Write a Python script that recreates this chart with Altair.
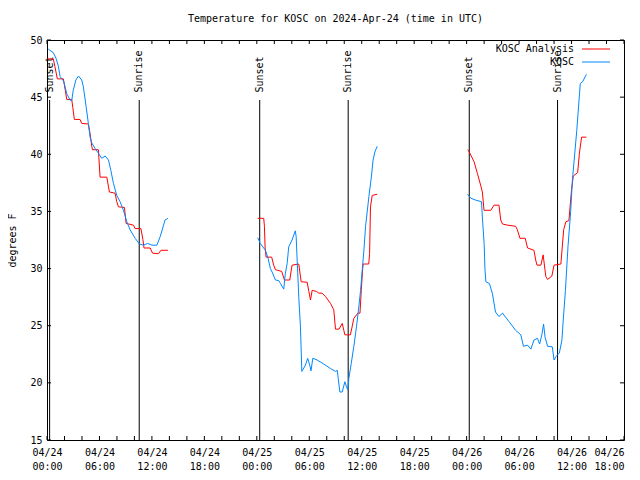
import altair as alt
import pandas as pd

FONT = "DejaVu Sans Mono"
RED = "#ff0000"
BLUE = "#0088ff"

# hours since 04/24 00:00 UTC, temperature in degrees F
ana_h1 = [0.03, 0.72, 0.9, 1.18, 1.87, 2.05, 2.26, 2.83, 2.95, 3.13, 3.78, 3.97, 4.73, 4.93, 5.12, 5.2, 5.88, 6.07, 6.84, 7.14, 7.79, 7.98, 8.17, 8.86, 9.05, 9.89, 10.08, 10.74, 10.97, 11.1, 11.8, 12.07, 12.76, 13.03, 13.83]
ana_t1 = [48.35, 48.35, 47.7, 46.6, 46.6, 45.8, 44.8, 44.8, 44.1, 43.05, 43.05, 42.7, 42.65, 41.8, 40.7, 40.4, 40.4, 38.0, 38.0, 36.7, 36.6, 35.85, 35.4, 35.35, 33.95, 33.8, 33.5, 33.5, 32.55, 31.8, 31.8, 31.35, 31.3, 31.6, 31.6]
ana_h2 = [24.1, 24.79, 24.87, 24.95, 25.06, 25.7, 25.93, 26.13, 26.85, 27.16, 27.77, 28.03, 28.8, 29.07, 29.76, 29.95, 30.14, 30.33, 30.82, 31.1, 31.47, 31.86, 32.43, 32.8, 33.0, 33.4, 33.77, 33.95, 34.07, 34.7, 34.9, 35.1, 35.56, 35.8, 35.95, 36.1, 36.17, 36.8, 36.9, 37.0, 37.2, 37.77]
ana_t2 = [34.4, 34.4, 33.7, 31.8, 31.0, 31.0, 30.3, 29.9, 29.75, 29.0, 29.0, 30.3, 30.4, 28.85, 28.8, 28.0, 27.25, 28.1, 28.0, 27.85, 27.85, 27.55, 26.95, 26.4, 24.7, 24.7, 25.2, 24.6, 24.2, 24.2, 24.9, 25.65, 26.1, 26.1, 28.1, 29.9, 30.4, 30.4, 31.3, 35.4, 36.4, 36.5]
ana_h3 = [48.1, 48.2, 48.85, 49.24, 49.6, 49.8, 49.99, 50.76, 51.14, 51.7, 51.9, 52.1, 52.67, 53.6, 53.8, 54.1, 54.7, 54.97, 55.7, 55.9, 56.05, 56.5, 56.75, 57.06, 57.26, 57.75, 58.0, 58.78, 59.1, 59.35, 59.7, 60.0, 60.2, 60.7, 60.9, 61.15, 61.7]
ana_t3 = [40.4, 40.35, 39.35, 38.3, 37.3, 36.7, 35.1, 35.1, 35.55, 35.55, 34.25, 33.9, 33.8, 33.7, 33.4, 32.65, 32.65, 31.8, 31.6, 30.75, 30.3, 30.3, 31.2, 29.3, 29.05, 29.35, 30.3, 30.4, 33.4, 34.1, 34.2, 36.9, 38.1, 38.4, 40.1, 41.5, 41.5]

obs_h1 = [0.15, 0.72, 1.03, 1.3, 1.5, 1.9, 2.26, 2.64, 2.83, 3.0, 3.3, 3.6, 3.97, 4.16, 4.47, 4.73, 4.93, 5.12, 5.5, 5.88, 6.26, 6.65, 7.03, 7.3, 7.6, 7.98, 8.36, 8.74, 9.13, 9.5, 10.08, 10.58, 11.03, 11.5, 12.0, 12.57, 12.95, 13.33, 13.5, 13.83]
obs_t1 = [49.2, 48.9, 48.4, 47.7, 46.8, 46.4, 45.3, 44.75, 44.7, 45.6, 46.5, 46.85, 46.5, 45.9, 44.2, 42.7, 41.5, 41.0, 40.5, 40.1, 39.65, 39.85, 39.5, 38.6, 37.45, 36.4, 35.85, 35.1, 34.1, 33.4, 32.65, 32.15, 32.05, 32.2, 32.05, 32.05, 32.8, 33.8, 34.25, 34.4]
obs_h2 = [24.1, 24.4, 24.98, 25.29, 25.55, 25.75, 26.13, 26.5, 26.7, 27.08, 27.25, 27.47, 27.65, 28.03, 28.4, 28.5, 28.6, 28.8, 28.99, 29.15, 29.56, 29.82, 30.05, 30.2, 30.4, 30.9, 31.66, 32.43, 33.0, 33.2, 33.5, 33.77, 34.07, 34.26, 34.41, 34.53, 34.8, 35.1, 35.4, 35.67, 35.87, 36.06, 36.25, 36.44, 36.82, 37.1, 37.3, 37.5, 37.77]
obs_t2 = [32.7, 32.2, 31.6, 30.9, 30.0, 29.7, 29.0, 28.95, 28.7, 28.2, 29.5, 30.45, 31.9, 32.5, 33.3, 32.8, 31.0, 27.5, 24.9, 21.0, 21.55, 22.15, 21.55, 21.05, 22.15, 22.0, 21.65, 21.25, 21.0, 21.1, 19.2, 19.2, 20.1, 19.65, 19.4, 20.4, 21.7, 23.2, 24.9, 26.65, 28.1, 29.9, 31.6, 33.7, 36.3, 38.0, 39.5, 40.2, 40.7]
obs_h3 = [48.1, 48.5, 49.0, 49.7, 49.8, 50.0, 50.1, 50.2, 50.6, 50.95, 51.3, 51.7, 52.1, 52.86, 53.6, 54.2, 54.5, 54.97, 55.35, 55.7, 56.1, 56.35, 56.6, 56.8, 56.97, 57.26, 57.8, 58.0, 58.2, 58.6, 58.9, 59.05, 59.3, 59.6, 59.9, 60.1, 60.6, 61.0, 61.27, 61.7]
obs_t3 = [36.5, 36.15, 36.0, 35.85, 34.5, 32.2, 29.9, 28.85, 28.7, 27.8, 26.2, 25.8, 26.1, 25.35, 24.6, 24.2, 23.2, 23.3, 22.95, 23.75, 23.9, 23.4, 24.2, 25.15, 24.0, 23.2, 23.15, 22.0, 22.3, 22.6, 23.75, 25.5, 28.1, 32.0, 35.0, 37.75, 42.1, 46.2, 46.35, 47.0]

event_hours = [0.3, 10.55, 24.33, 34.45, 48.3, 58.4]
event_labels = ["Sunset", "Sunrise", "Sunset", "Sunrise", "Sunset", "Sunrise"]

x_tick_values = list(range(0, 67, 6))
x_minor_values = list(range(0, 67, 2))
y_tick_values = list(range(15, 51, 5))

series_names = ["KOSC Analysis", "KOSC"]
series_colors = [RED, BLUE]


def frame(segs, name):
    rows = []
    for i, (hs, ts) in enumerate(segs):
        for h, t in zip(hs, ts):
            rows.append({"h": h, "t": t, "seg": i, "series": name})
    return pd.DataFrame(rows)


df_ana = frame([(ana_h1, ana_t1), (ana_h2, ana_t2), (ana_h3, ana_t3)], "KOSC Analysis")
df_obs = frame([(obs_h1, obs_t1), (obs_h2, obs_t2), (obs_h3, obs_t3)], "KOSC")
df_ev = pd.DataFrame({"h": event_hours, "label": event_labels})
df_xt = pd.DataFrame({"h": x_minor_values})
df_yt = pd.DataFrame({"t": y_tick_values})

W, H = 577, 400

xscale = alt.Scale(domain=[0, 66], nice=False, zero=False)
yscale = alt.Scale(domain=[15, 50], nice=False, zero=False)

xaxis = alt.Axis(
    values=x_tick_values,
    labelExpr="['04/' + (24 + floor(datum.value / 24)), pad(toString(datum.value % 24), 2, '0', 'left') + ':00']",
    labelLineHeight=14,
    labelPadding=7,
    labelBaseline="top",
    labelAlign={"condition": {"test": "datum.value >= 66", "value": "right"}, "value": "center"},
    labelFlush=False,
    labelOverlap=False,
    title=None,
)
yaxis = alt.Axis(values=y_tick_values, labelPadding=5, title="degrees F", titlePadding=12)

X = alt.X("h:Q", scale=xscale, axis=xaxis)
Y = alt.Y("t:Q", scale=yscale, axis=yaxis)

ana = alt.Chart(df_ana).mark_line(color=RED, strokeWidth=1).encode(x=X, y=Y, detail="seg:N")
obs = alt.Chart(df_obs).mark_line(color=BLUE, strokeWidth=1).encode(x=X, y=Y, detail="seg:N")

ev_rule = alt.Chart(df_ev).mark_rule(color="black", strokeWidth=1).encode(
    x=X, y=alt.datum(44.75), y2=alt.datum(15)
)
ev_text = alt.Chart(df_ev).mark_text(
    angle=270, align="left", baseline="middle", font=FONT, fontSize=10, color="black"
).encode(x=X, y=alt.datum(45.4), text="label:N")

xt_bottom = alt.Chart(df_xt).mark_rule(color="black").encode(x=X, y=alt.value(H), y2=alt.value(H - 4))
xt_top = alt.Chart(df_xt).mark_rule(color="black").encode(x=X, y=alt.value(0), y2=alt.value(4))
yt_left = alt.Chart(df_yt).mark_rule(color="black").encode(y=Y, x=alt.value(0), x2=alt.value(4))
yt_right = alt.Chart(df_yt).mark_rule(color="black").encode(y=Y, x=alt.value(W), x2=alt.value(W - 4))

legend_layers = []
for i, (name, col) in enumerate(zip(series_names, series_colors)):
    ly = 9 + 13 * i
    ldf = pd.DataFrame({"label": [name]})
    legend_layers.append(
        alt.Chart(ldf).mark_text(align="right", baseline="middle", font=FONT, fontSize=10, color="black").encode(
            text="label:N", x=alt.value(527), y=alt.value(ly)
        )
    )
    legend_layers.append(
        alt.Chart(ldf).mark_rule(color=col, strokeWidth=1).encode(
            x=alt.value(535), x2=alt.value(563), y=alt.value(ly)
        )
    )

chart = alt.layer(
    ev_rule, ev_text, ana, obs, xt_bottom, xt_top, yt_left, yt_right, *legend_layers
).properties(
    width=W,
    height=H,
    title=alt.TitleParams(
        "Temperature for KOSC on 2024-Apr-24 (time in UTC)",
        font=FONT, fontSize=10, fontWeight="normal", color="black", anchor="middle", offset=11,
    ),
    autosize=alt.AutoSizeParams(type="none"),
    padding={"left": 39, "top": 32, "right": 8, "bottom": 38},
).configure_axis(
    labelFont=FONT, labelFontSize=10, labelColor="black",
    titleFont=FONT, titleFontSize=10, titleFontWeight="normal", titleColor="black",
    grid=False, domain=False, ticks=False,
).configure_view(
    stroke="black", strokeWidth=1
)

chart.save("out.html", embed_options={"renderer": "svg", "actions": False})
